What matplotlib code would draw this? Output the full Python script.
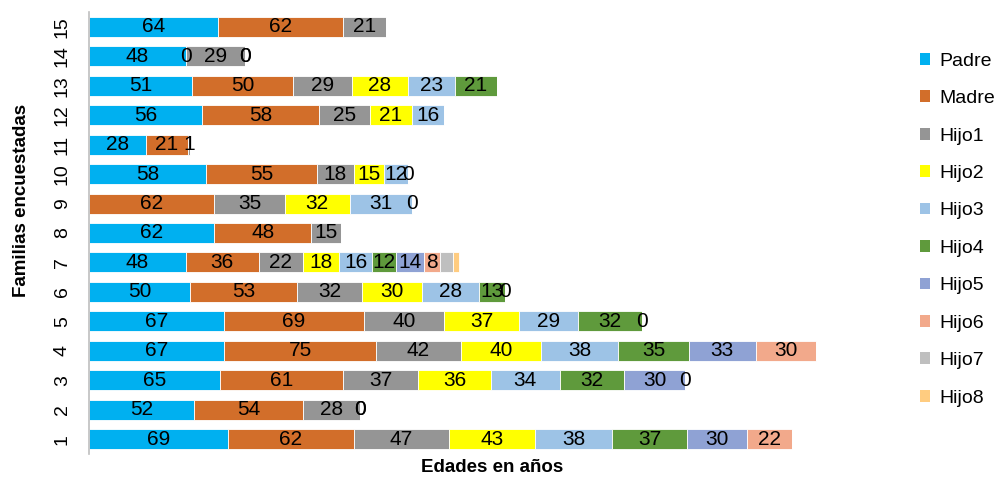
import numpy as np
import matplotlib
matplotlib.use("Agg")
import matplotlib.pyplot as plt
from matplotlib.patches import Patch

plt.rcParams['font.family'] = ['Liberation Sans', 'DejaVu Sans']

nan = np.nan
families = [str(i) for i in range(1, 16)]

padre = [69, 52, 65, 67, 67, 50, 48, 62, nan, 58, 28, 56, 51, 48, 64]
madre = [62, 54, 61, 75, 69, 53, 36, 48, 62, 55, 21, 58, 50, 0, 62]
hijo1 = [47, 28, 37, 42, 40, 32, 22, 15, 35, 18, 1, 25, 29, 29, 21]
hijo2 = [43, 0, 36, 40, 37, 30, 18, nan, 32, 15, nan, 21, 28, 0, nan]
hijo3 = [38, 0, 34, 38, 29, 28, 16, nan, 31, 12, nan, 16, 23, 0, nan]
hijo4 = [37, nan, 32, 35, 32, 13, 12, nan, 0, 0, nan, nan, 21, nan, nan]
hijo5 = [30, nan, 30, 33, 0, 0, 14, nan, nan, nan, nan, nan, nan, nan, nan]
hijo6 = [22, nan, 0, 30, nan, nan, 8, nan, nan, nan, nan, nan, nan, nan, nan]
hijo7 = [nan, nan, nan, nan, nan, nan, 6, nan, nan, nan, nan, nan, nan, nan, nan]
hijo8 = [nan, nan, nan, nan, nan, nan, 3, nan, nan, nan, nan, nan, nan, nan, nan]

series_names = ["Padre", "Madre", "Hijo1", "Hijo2", "Hijo3",
                "Hijo4", "Hijo5", "Hijo6", "Hijo7", "Hijo8"]
series_values = [padre, madre, hijo1, hijo2, hijo3,
                 hijo4, hijo5, hijo6, hijo7, hijo8]
colors = ["#00B0F0", "#D26E2A", "#959595", "#FFFF00", "#9DC3E6",
          "#5F9A3C", "#8FA2D4", "#F2A98B", "#BFBFBF", "#FFCC80"]
# series whose data labels are not shown
unlabeled = {"Hijo7", "Hijo8"}

fig = plt.figure(figsize=(9.97, 4.78), dpi=100)
ax = fig.add_axes([89 / 997, 1 - 454 / 478, (905 - 89) / 997, (454 - 12) / 478])

y = np.arange(len(families))
left = np.zeros(len(families))
for name, vals, col in zip(series_names, series_values, colors):
    v = np.array(vals, dtype=float)
    w = np.nan_to_num(v)
    ax.barh(y, w, left=left, height=0.68, color=col, edgecolor="white",
            linewidth=0.6, label=name)
    if name not in unlabeled:
        for i, val in enumerate(v):
            if not np.isnan(val):
                ax.text(left[i] + w[i] / 2, y[i], f"{int(val)}",
                        ha="center", va="center", fontsize=15, color="black")
    left += w

ax.set_xlim(0, 404)
ax.set_ylim(-0.5, len(families) - 0.5)
ax.set_yticks(y)
ax.set_yticklabels(families, rotation=90, va="center", fontsize=14)
ax.tick_params(axis="y", length=0, pad=13)
ax.set_xticks([])
for s in ["top", "right", "bottom"]:
    ax.spines[s].set_visible(False)
ax.spines["left"].set_color("#BFBFBF")
ax.spines["left"].set_linewidth(1.2)

fig.text(492 / 997, 1 - 467 / 478, "Edades en años", ha="center", va="center",
         fontsize=13.5, fontweight="bold")
fig.text(21 / 997, 1 - 200 / 478, "Familias encuestadas", ha="center",
         va="center", rotation=90, fontsize=13.5, fontweight="bold")

handles = [Patch(facecolor=c, edgecolor="none", label=n)
           for n, c in zip(series_names, colors)]
fig.legend(handles=handles, loc="upper left",
           bbox_to_anchor=(912 / 997, 1 - 45 / 478), frameon=False,
           fontsize=14, handlelength=0.55, handleheight=0.55,
           handletextpad=0.45, labelspacing=1.05, borderaxespad=0)

fig.savefig("out.png", dpi=100)
